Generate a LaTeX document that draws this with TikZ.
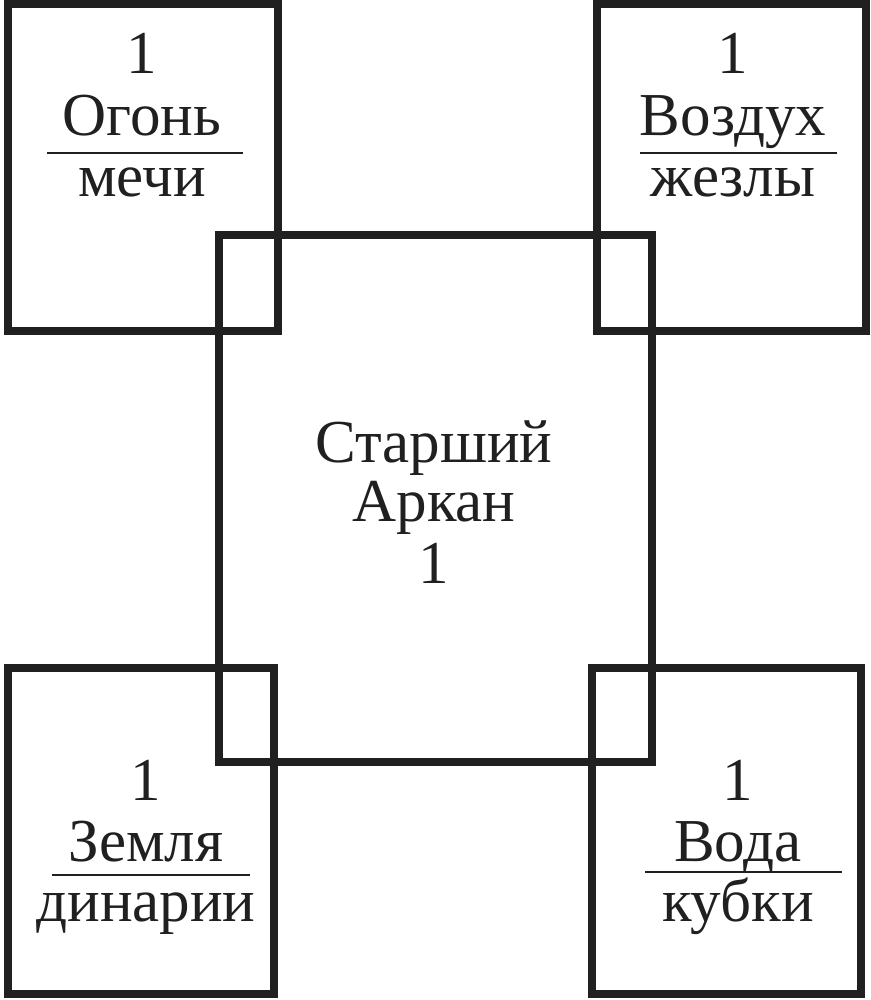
\documentclass[tikz,border=0pt]{standalone}
\usepackage{fontspec}
\setmainfont{Liberation Serif}
\definecolor{ink}{HTML}{202020}
\begin{document}
\begin{tikzpicture}[x=1pt,y=-1pt,
  box/.style={draw=ink,line width=8pt,line join=miter},
  rulestyle/.style={draw=ink,line width=2.4pt},
  lbl/.style={anchor=base,inner sep=0pt,text=ink,font=\fontsize{61}{61}\selectfont}]
\useasboundingbox (0,0) rectangle (870,1000);
\fill[white] (0,0) rectangle (870,1000);
% squares
\draw[box] (219,235) rectangle (652,762);
\draw[box] (8,4) rectangle (278,331);
\draw[box] (597,4) rectangle (866,331);
\draw[box] (8,668) rectangle (274,994);
\draw[box] (592,668) rectangle (861,994);
% top-left
\node[lbl] (tl1) at (142,74) {1};
\node[lbl] (tlw) at (142,136) {Огонь};
\node[lbl] (tls) at (142,197) {мечи};
\draw[rulestyle] (47,153) -- (243,153);
% top-right
\node[lbl] (tr1) at (733,74) {1};
\node[lbl] (trw) at (733,136) {Воздух};
\node[lbl] (trs) at (733,197) {жезлы};
\draw[rulestyle] (640,153) -- (837,153);
% centre
\node[lbl] (c1) at (434,462) {Старший};
\node[lbl] (c2) at (434,521) {Аркан};
\node[lbl] (c3) at (434,583) {1};
% bottom-left
\node[lbl] (bl1) at (146,800) {1};
\node[lbl] (blw) at (146,861) {Земля};
\node[lbl] (bls) at (146,921) {динарии};
\draw[rulestyle] (52,875) -- (250,875);
% bottom-right
\node[lbl] (br1) at (738,800) {1};
\node[lbl] (brw) at (738,861) {Вода};
\node[lbl] (brs) at (738,921) {кубки};
\draw[rulestyle] (645,872) -- (842,872);
\end{tikzpicture}
\end{document}
